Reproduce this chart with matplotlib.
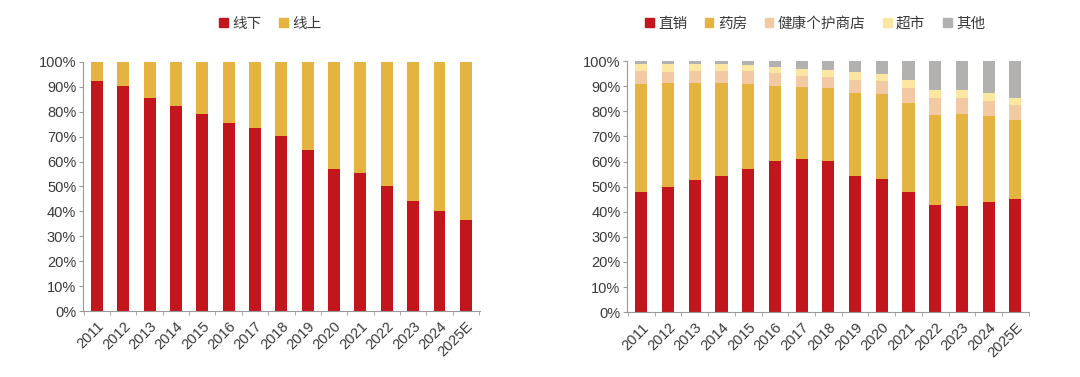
import matplotlib.pyplot as plt
import numpy as np
from matplotlib.patches import Patch

plt.rcParams['font.family'] = ['Liberation Sans', 'Noto Sans CJK SC', 'DejaVu Sans']

years = ['2011', '2012', '2013', '2014', '2015', '2016', '2017', '2018',
         '2019', '2020', '2021', '2022', '2023', '2024', '2025E']

# left chart: offline share (%), online = rest
offline = [92.4, 90.3, 85.4, 82.3, 79.0, 75.6, 73.5, 70.2, 64.7, 56.8, 55.5, 50.1, 44.0, 40.2, 36.5]
online = [100 - v for v in offline]

# right chart: cumulative tops (%)
direct_top = [47.7, 49.9, 52.6, 54.4, 57.1, 60.2, 61.0, 60.2, 54.4, 53.1, 47.7, 42.5, 42.1, 43.7, 45.2]
pharmacy_top = [90.7, 91.1, 91.1, 91.1, 90.7, 90.1, 89.5, 89.1, 87.1, 86.8, 83.2, 78.6, 79.0, 78.2, 76.7]
health_top = [96.2, 95.7, 96.0, 96.0, 96.0, 95.2, 94.0, 93.7, 92.4, 92.0, 89.1, 85.1, 85.3, 84.0, 82.4]
market_top = [98.7, 98.7, 98.7, 98.7, 98.5, 97.8, 96.7, 96.4, 95.7, 94.7, 92.4, 88.4, 88.4, 87.1, 85.3]

direct = np.array(direct_top)
pharmacy = np.array(pharmacy_top) - direct
health = np.array(health_top) - np.array(pharmacy_top)
market = np.array(market_top) - np.array(health_top)
other = 100 - np.array(market_top)

RED = '#C3161C'
YEL = '#E5B440'
PEACH = '#F3C9A3'
LYEL = '#FBE6A2'
GREY = '#B3B1AF'
TXT = '#3A3A3A'

fig = plt.figure(figsize=(10.8, 3.77), dpi=100)
ax1 = fig.add_axes([0.077, 0.175, 0.367, 0.661])
ax2 = fig.add_axes([0.581, 0.172, 0.372, 0.666])

x = np.arange(len(years))
w = 0.45


def style(ax):
    ax.set_ylim(0, 100)
    ax.set_xlim(-0.52, len(years) - 0.48)
    ax.set_yticks(np.arange(0, 101, 10))
    ax.set_yticklabels([f'{v}%' for v in range(0, 101, 10)], fontsize=10.5, color=TXT)
    ax.set_xticks(x)
    ax.set_xticklabels(years, rotation=45, ha='right', rotation_mode='anchor',
                       fontsize=10.5, color=TXT)
    ax.tick_params(axis='x', length=0, pad=6)
    ax.set_xticks(np.arange(-0.5, len(years), 1), minor=True)
    ax.tick_params(axis='x', which='minor', length=3, color='#999999')
    ax.tick_params(axis='y', length=3, color='#999999', pad=2)
    for s in ['top', 'right']:
        ax.spines[s].set_visible(False)
    for s in ['left', 'bottom']:
        ax.spines[s].set_color('#999999')
        ax.spines[s].set_linewidth(0.8)


ax1.bar(x, offline, w, color=RED, label='线下')
ax1.bar(x, online, w, bottom=offline, color=YEL, label='线上')
style(ax1)

ax2.bar(x, direct, w, color=RED)
ax2.bar(x, pharmacy, w, bottom=direct, color=YEL)
ax2.bar(x, health, w, bottom=pharmacy_top, color=PEACH)
ax2.bar(x, market, w, bottom=health_top, color=LYEL)
ax2.bar(x, other, w, bottom=market_top, color=GREY)
style(ax2)

leg_font = {'family': ['Noto Sans CJK SC', 'DejaVu Sans'], 'size': 10.5}
h1 = [Patch(color=RED), Patch(color=YEL)]
fig.legend(h1, ['线下', '线上'], loc='center', bbox_to_anchor=(270 / 1080, 1 - 24 / 377),
           ncol=2, frameon=False, prop=leg_font, handlelength=0.6, handleheight=0.6,
           handletextpad=0.3, columnspacing=1.2, labelcolor=TXT)
h2 = [Patch(color=c) for c in [RED, YEL, PEACH, LYEL, GREY]]
fig.legend(h2, ['直销', '药房', '健康个护商店', '超市', '其他'], loc='center',
           bbox_to_anchor=(815 / 1080, 1 - 24 / 377), ncol=5, frameon=False, prop=leg_font,
           handlelength=0.6, handleheight=0.6, handletextpad=0.3, columnspacing=1.2,
           labelcolor=TXT)

fig.savefig('out.png', dpi=100)
